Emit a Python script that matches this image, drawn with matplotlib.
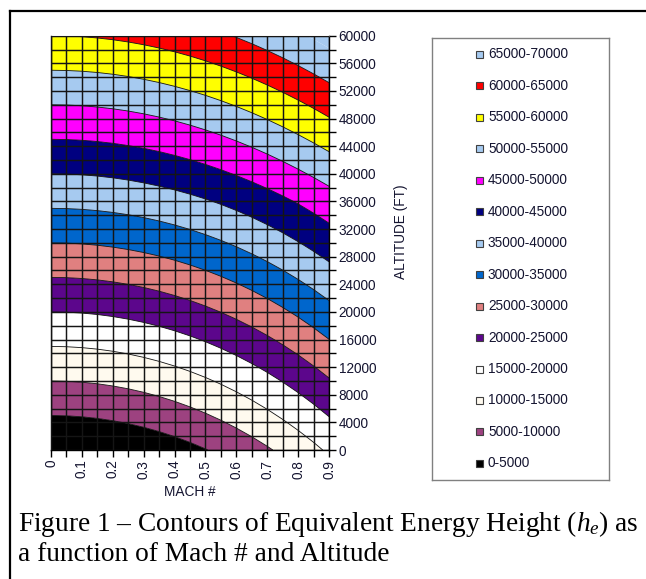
import matplotlib
matplotlib.use("Agg")
import matplotlib.pyplot as plt
import numpy as np
from matplotlib.patches import Rectangle
from matplotlib.lines import Line2D

# ---------------- data ----------------
mach_numbers = [0.0, 0.05, 0.1, 0.15, 0.2, 0.25, 0.3, 0.35, 0.4, 0.45,
                0.5, 0.55, 0.6, 0.65, 0.7, 0.75, 0.8, 0.85, 0.9]
altitudes_ft = [0, 2000, 4000, 6000, 8000, 10000, 12000, 14000, 16000, 18000,
                20000, 22000, 24000, 26000, 28000, 30000, 32000, 34000, 36000,
                38000, 40000, 42000, 44000, 46000, 48000, 50000, 52000, 54000,
                56000, 58000, 60000]
# standard-atmosphere speed of sound at each altitude row (ft/s)
speed_of_sound_fps = [1116.4, 1108.7, 1101.0, 1093.2, 1085.3, 1077.4, 1069.4,
                      1061.3, 1053.2, 1045.1, 1036.8, 1028.5, 1020.2, 1011.7,
                      1003.2, 994.7, 986.0, 977.3, 968.5, 968.1, 968.1, 968.1,
                      968.1, 968.1, 968.1, 968.1, 968.1, 968.1, 968.1, 968.1,
                      968.1]
G_FT_S2 = 32.174

band_edges = [0, 5000, 10000, 15000, 20000, 25000, 30000, 35000, 40000,
              45000, 50000, 55000, 60000, 65000, 70000]
band_labels = ["0-5000", "5000-10000", "10000-15000", "15000-20000",
               "20000-25000", "25000-30000", "30000-35000", "35000-40000",
               "40000-45000", "45000-50000", "50000-55000", "55000-60000",
               "60000-65000", "65000-70000"]
band_colors = ["#000000", "#9D4280", "#FFFAEF", "#FFFFFF", "#5C068C",
               "#E08080", "#0066CC", "#A6CAF0", "#000080", "#FF00FF",
               "#A6CAF0", "#FFFF00", "#FF0000", "#A6CAF0"]
x_tick_labels = ["0", "0.1", "0.2", "0.3", "0.4", "0.5", "0.6", "0.7", "0.8", "0.9"]
y_tick_values = [0, 4000, 8000, 12000, 16000, 20000, 24000, 28000, 32000,
                 36000, 40000, 44000, 48000, 52000, 56000, 60000]

# energy height  he = h + V^2 / (2 g),  V = M * a(h)
M, H = np.meshgrid(np.array(mach_numbers), np.array(altitudes_ft, dtype=float))
A = np.array(speed_of_sound_fps)[:, None]
energy_height = H + (M * A) ** 2 / (2 * G_FT_S2)

# ---------------- figure ----------------
plt.rcParams["mathtext.fontset"] = "custom"
plt.rcParams["mathtext.rm"] = "Liberation Serif"
plt.rcParams["mathtext.it"] = "Liberation Serif:italic"

W, Hpx = 646, 579
fig = plt.figure(figsize=(W / 100, Hpx / 100), dpi=100)
fig.patch.set_facecolor("white")

pl, pr, pt, pb = 51, 329, 35.7, 450
ax = fig.add_axes([pl / W, 1 - pb / Hpx, (pr - pl) / W, (pb - pt) / Hpx])

ax.contourf(mach_numbers, altitudes_ft, energy_height, levels=band_edges,
            colors=band_colors + [band_colors[-1]], extend="max", antialiased=True)
ax.contour(mach_numbers, altitudes_ft, energy_height, levels=band_edges[1:-1],
           colors="#111111", linewidths=0.6)

ax.set_xlim(0, 0.9)
ax.set_ylim(0, 60000)

ax.set_xticks([float(s) for s in x_tick_labels])
ax.set_xticklabels(x_tick_labels, rotation=90)
ax.set_xticks(mach_numbers, minor=True)

ax.yaxis.tick_right()
ax.set_yticks(y_tick_values)
ax.set_yticklabels([str(v) for v in y_tick_values])
ax.set_yticks(altitudes_ft, minor=True)

tick_font = "Liberation Sans"
text_color = "#141430"
ax.tick_params(which="both", direction="out", length=5, width=1, color="black")
ax.tick_params(axis="both", which="major", labelsize=9.8, pad=2)
for lab in ax.get_xticklabels() + ax.get_yticklabels():
    lab.set_fontfamily(tick_font)
    lab.set_color(text_color)

ax.grid(which="both", color="#151515", linewidth=1.05)
ax.set_axisbelow(False)
for side in ["left", "right", "bottom"]:
    ax.spines[side].set_color("black")
    ax.spines[side].set_linewidth(1.0)
ax.spines["top"].set_color("#808080")

fig.text(190 / W, 1 - 492 / Hpx, "MACH #", ha="center", va="center",
         fontsize=9.8, fontfamily=tick_font, color=text_color)
fig.text(401 / W, 1 - 232 / Hpx, "ALTITUDE (FT)", ha="center", va="center",
         rotation=90, fontsize=9.8, fontfamily=tick_font, color=text_color)

# ---------------- legend box ----------------
lx0, lx1, ly0, ly1 = 432, 609, 38, 480
lax = fig.add_axes([lx0 / W, 1 - ly1 / Hpx, (lx1 - lx0) / W, (ly1 - ly0) / Hpx])
lax.set_xlim(0, lx1 - lx0)
lax.set_ylim(ly1 - ly0, 0)
lax.set_xticks([])
lax.set_yticks([])
for s in lax.spines.values():
    s.set_color("#808080")
    s.set_linewidth(1.0)
n = len(band_labels)
for i in range(n):
    idx = n - 1 - i
    yc = 16.5 + i * 31.45
    lax.add_patch(Rectangle((44.5, yc - 3.5), 7, 7, facecolor=band_colors[idx],
                            edgecolor="#404040", linewidth=0.8))
    lax.text(56, yc, band_labels[idx], va="center", ha="left", fontsize=9.8,
             fontfamily=tick_font, color=text_color)

# ---------------- outer frame and caption ----------------
fig.add_artist(Line2D([9.5 / W, 9.5 / W], [0, 1 - 11 / Hpx], transform=fig.transFigure,
                      color="black", linewidth=1.6, solid_capstyle="projecting"))
fig.add_artist(Line2D([9.5 / W, 1.0], [1 - 11 / Hpx, 1 - 11 / Hpx], transform=fig.transFigure,
                      color="black", linewidth=1.6, solid_capstyle="projecting"))

fig.text(18 / W, 1 - 531 / Hpx,
         "Figure 1 \u2013 Contours of Equivalent Energy Height ($\\mathit{h_e}$) as",
         ha="left", va="baseline", fontsize=19.7, fontfamily="Liberation Serif")
fig.text(18 / W, 1 - 561 / Hpx, "a function of Mach # and Altitude",
         ha="left", va="baseline", fontsize=19.7, fontfamily="Liberation Serif")

fig.savefig("out.png", dpi=100)
